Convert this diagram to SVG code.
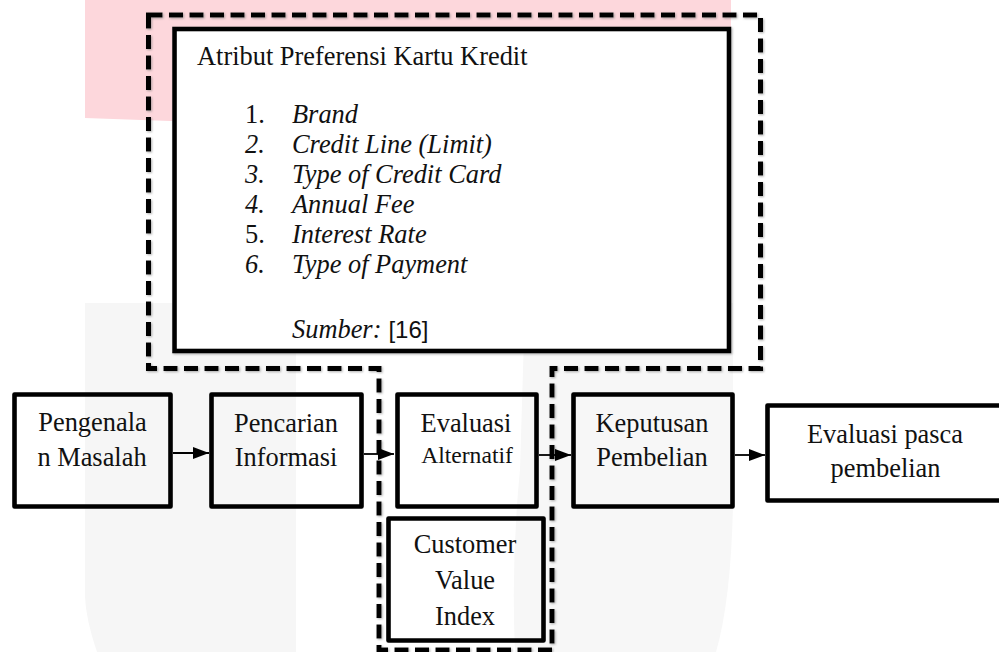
<svg xmlns="http://www.w3.org/2000/svg" width="999" height="652" viewBox="0 0 999 652">
<style>
.box{fill:none;stroke:#000;stroke-width:4.6;stroke-linejoin:round}
.dash{fill:none;stroke:#000;stroke-width:5;stroke-dasharray:14 6.5}
.t{font-family:"Liberation Serif","Times New Roman",serif;font-size:26.4px;fill:#111}
.i{font-style:italic}
.c{text-anchor:middle}
.arr{stroke:#000;stroke-width:1.8;fill:none}
</style>
<defs>
<marker id="ah" markerUnits="userSpaceOnUse" markerWidth="17" markerHeight="13" refX="16" refY="6.5" orient="auto">
<path d="M0,0.5 L16,6.5 L0,12.5 Z" fill="#000"/>
</marker>
<filter id="sh" x="-5%" y="-5%" width="110%" height="110%">
<feDropShadow dx="1" dy="1" stdDeviation="1.3" flood-color="#777" flood-opacity="0.6"/>
</filter>
</defs>
<rect width="999" height="652" fill="#fff"/>
<g id="watermark">
<path d="M85,0 H731 V119 L170,121 L85,118 Z" fill="#fdd7dc"/>
<path d="M85,303 H296 V652 H97 Q86,620 85,597 Z" fill="#f6f6f6"/>
<path d="M525,303 H733 V505 Q731,600 716,652 H515 Q511,560 520,470 Z" fill="#f7f7f7"/>
</g>
<g id="boundary" filter="url(#sh)">
<path class="dash" d="M148.5,15 H760.5 V368.5 H552 V650 H379 V368.5 H148.5 Z"/>
</g>
<g id="attributes">
<rect x="174.5" y="29" width="554.5" height="322" fill="#fff" stroke="#000" stroke-width="4.6" filter="url(#sh)"/>
<text class="t" x="197" y="65">Atribut Preferensi Kartu Kredit</text>
<text class="t" x="245" y="123">1.</text><text class="t i" x="292" y="123">Brand</text>
<text class="t i" x="245" y="153">2.</text><text class="t i" x="292" y="153">Credit Line (Limit)</text>
<text class="t i" x="245" y="183">3.</text><text class="t i" x="292" y="183">Type of Credit Card</text>
<text class="t i" x="245" y="213">4.</text><text class="t i" x="292" y="213">Annual Fee</text>
<text class="t" x="245" y="243">5.</text><text class="t i" x="292" y="243">Interest Rate</text>
<text class="t i" x="245" y="273">6.</text><text class="t i" x="292" y="273">Type of Payment</text>
<text class="t i" x="292" y="338">Sumber:<tspan font-style="normal" font-family="'Liberation Sans',Arial,sans-serif" font-size="24px" dx="7">[16]</tspan></text>
</g>
<g id="n1">
<rect class="box" x="14.5" y="394.5" width="156" height="112"/>
<text class="t c" x="92.5" y="431">Pengenala</text>
<text class="t c" x="92" y="466">n Masalah</text>
</g>
<g id="n2">
<rect class="box" x="211.5" y="394.5" width="150" height="112"/>
<text class="t c" x="286" y="432">Pencarian</text>
<text class="t c" x="286" y="466">Informasi</text>
</g>
<g id="n3">
<rect class="box" x="397.5" y="394.5" width="139" height="112"/>
<text class="t c" x="466" y="432">Evaluasi</text>
<text class="t c" x="467" y="463" style="font-size:23.6px">Alternatif</text>
</g>
<g id="n4">
<rect class="box" x="388.5" y="518.5" width="155" height="122"/>
<text class="t c" x="465" y="553">Customer</text>
<text class="t c" x="465" y="589">Value</text>
<text class="t c" x="465" y="625">Index</text>
</g>
<g id="n5">
<rect class="box" x="573.5" y="394.5" width="159" height="112"/>
<text class="t c" x="652" y="432">Keputusan</text>
<text class="t c" x="652" y="466">Pembelian</text>
</g>
<g id="n6">
<rect class="box" x="767.5" y="405.5" width="240" height="95"/>
<text class="t c" x="885" y="443">Evaluasi pasca</text>
<text class="t c" x="885.5" y="477">pembelian</text>
</g>
<g id="connectors">
<line class="arr" x1="173" y1="453" x2="209" y2="453" marker-end="url(#ah)"/>
<line class="arr" x1="364" y1="454" x2="394" y2="454" marker-end="url(#ah)"/>
<line class="arr" x1="539" y1="455" x2="571" y2="455" marker-end="url(#ah)"/>
<line class="arr" x1="735" y1="455" x2="765" y2="455" marker-end="url(#ah)"/>
</g>
</svg>
